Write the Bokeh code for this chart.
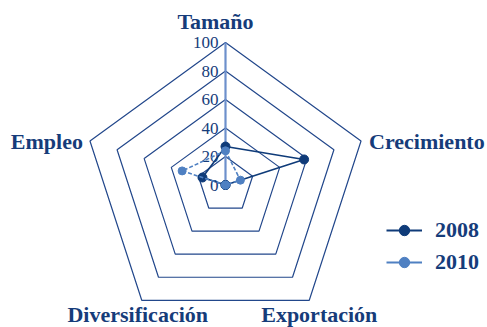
import math
from bokeh.plotting import figure
from bokeh.models import Range1d, Legend, LegendItem
from bokeh.core.properties import value
from bokeh.embed import file_html
from bokeh.resources import INLINE

# ---- data ----
categories = ["Tamaño", "Crecimiento", "Exportación", "Diversificación", "Empleo"]
series_names = ["2008", "2010"]
values_2008 = [27, 58, 0, 0, 17]
values_2010 = [24, 11, 0, 0, 32]
tick_values = [0, 20, 40, 60, 80, 100]
tick_labels = ["0", "20", "40", "60", "80", "100"]

# ---- style ----
W, H = 487, 327
PX = 1.425  # pixels per value unit
CX, CY = 225, 184.5  # centre in figure pixels (from top-left)
GRID = "#22478B"
AXIS = "#6D90CC"
C08 = "#0F3B79"
C10 = "#4F80C2"
TXT = "#163C7A"
SERIF = "Liberation Serif"
label_style = [  # (align, x_offset, y_offset)
    ("center", -10, -21),
    ("left", 8, 1),
    ("center", 10, 14),
    ("center", -4, 14),
    ("right", -7, 1),
]

angles = [math.radians(90 - 72 * i) for i in range(len(categories))]

def polar(vals):
    xs = [v * math.cos(a) for v, a in zip(vals, angles)]
    ys = [v * math.sin(a) for v, a in zip(vals, angles)]
    return xs, ys

p = figure(width=W, height=H, output_backend="svg", toolbar_location=None,
           x_range=Range1d(-CX / PX, (W - CX) / PX),
           y_range=Range1d(-(H - CY) / PX, CY / PX),
           min_border=0, outline_line_color=None)
p.axis.visible = False
p.grid.visible = False
p.background_fill_color = None
p.border_fill_color = None

# grid pentagons
for t in tick_values[1:]:
    xs, ys = polar([t] * len(categories))
    p.line(xs + [xs[0]], ys + [ys[0]], line_color=GRID, line_width=1.2)

# radial axis along first category
ax, ay = polar([tick_values[-1]] + [0] * 4)
p.line([0, ax[0]], [0, ay[0]], line_color=AXIS, line_width=2.2)

# tick labels
tx = [0] * len(tick_values)
ty = tick_values
p.text(tx, ty, text=tick_labels, text_align="right", text_baseline="middle",
       x_offset=-7, y_offset=0, text_font=value(SERIF), text_font_size="17px",
       text_color=TXT)

# series
x8, y8 = polar(values_2008)
x10, y10 = polar(values_2010)
l8 = p.line(x8 + [x8[0]], y8 + [y8[0]], line_color=C08, line_width=1.6)
m8 = p.scatter(x8, y8, size=9, fill_color=C08, line_color=C08)
l10 = p.line(x10 + [x10[0]], y10 + [y10[0]], line_color=C10, line_width=1.6,
             line_dash="4 2")
m10 = p.scatter(x10, y10, size=8, fill_color=C10, line_color=C10)

# legend proxies (solid lines)
lg8 = p.line([0], [0], line_color=C08, line_width=2.2, visible=False)
lg10 = p.line([0], [0], line_color=C10, line_width=2.2, visible=False)
lgm8 = p.scatter([0], [0], size=9, fill_color=C08, line_color=C08, visible=False)
lgm10 = p.scatter([0], [0], size=8, fill_color=C10, line_color=C10, visible=False)

# category labels
vx, vy = polar([100] * len(categories))
for i, cat in enumerate(categories):
    al, xo, yo = label_style[i]
    p.text([vx[i]], [vy[i]], text=[cat], text_align=al, text_baseline="alphabetic",
           x_offset=xo, y_offset=yo, text_font=value(SERIF), text_font_size="22px",
           text_font_style="bold", text_color=TXT)

legend = Legend(items=[LegendItem(label=series_names[0], renderers=[lg8, lgm8]),
                       LegendItem(label=series_names[1], renderers=[lg10, lgm10])],
                location=(386, 52), orientation="vertical",
                label_text_font=SERIF, label_text_font_size="22px",
                label_text_font_style="bold", label_text_color=TXT,
                glyph_width=36, glyph_height=26, label_height=26,
                spacing=6, padding=0, margin=0, label_standoff=13,
                border_line_color=None, background_fill_alpha=0)
p.add_layout(legend, "center")

open("out.html", "w").write(file_html(p, INLINE))
